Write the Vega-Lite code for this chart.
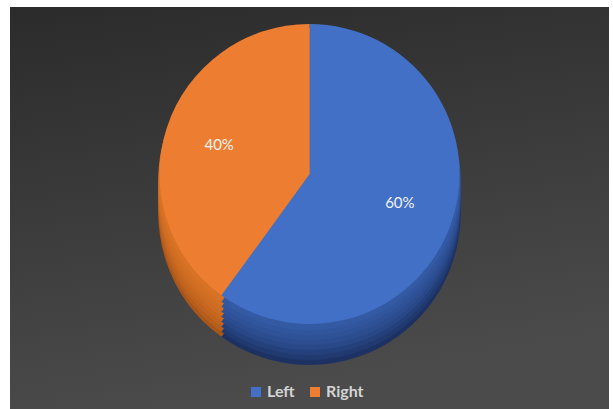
{
  "$schema": "https://vega.github.io/schema/vega-lite/v6.json",
  "autosize": {"type": "fit", "contains": "padding"},
  "width": 613,
  "height": 409,
  "padding": {"left": 10, "top": 7, "right": 4, "bottom": 0},
  "background": "white",
  "config": {
    "view": {"stroke": null, "fill": "#393939"},
    "font": "Lato"
  },
  "data": {"values": [{"side": "Left", "share": 0.6}, {"side": "Right", "share": 0.4}]},
  "layer": [
    {
      "mark": {"type": "rect", "color": {"gradient": "linear", "x1": 0, "y1": 0, "x2": 0.25, "y2": 1, "stops": [{"offset": 0, "color": "#2b2b2b"}, {"offset": 1, "color": "#4b4b4b"}]}},
      "encoding": {}
    },
    {
      "encoding": {
        "theta": {"field": "share", "type": "quantitative", "stack": true},
        "order": {"field": "side", "type": "nominal"}
      },
      "layer": [
        {"mark": {"type": "arc", "radius": 150, "yOffset": 6, "strokeWidth": 2}, "encoding": {"color": {"field": "side", "type": "nominal", "scale": {"domain": ["Left", "Right"], "range": ["#1d3263", "#a8561b"]}, "legend": null}, "stroke": {"field": "side", "type": "nominal", "scale": {"domain": ["Left", "Right"], "range": ["#1d3263", "#a8561b"]}, "legend": null}}},
        {"mark": {"type": "arc", "radius": 150, "yOffset": 1, "strokeWidth": 2}, "encoding": {"color": {"field": "side", "type": "nominal", "scale": {"domain": ["Left", "Right"], "range": ["#213a70", "#b65e1d"]}, "legend": null}, "stroke": {"field": "side", "type": "nominal", "scale": {"domain": ["Left", "Right"], "range": ["#213a70", "#b65e1d"]}, "legend": null}}},
        {"mark": {"type": "arc", "radius": 150, "yOffset": -4, "strokeWidth": 2}, "encoding": {"color": {"field": "side", "type": "nominal", "scale": {"domain": ["Left", "Right"], "range": ["#25417c", "#c0631f"]}, "legend": null}, "stroke": {"field": "side", "type": "nominal", "scale": {"domain": ["Left", "Right"], "range": ["#25417c", "#c0631f"]}, "legend": null}}},
        {"mark": {"type": "arc", "radius": 150, "yOffset": -9, "strokeWidth": 2}, "encoding": {"color": {"field": "side", "type": "nominal", "scale": {"domain": ["Left", "Right"], "range": ["#294887", "#c66720"]}, "legend": null}, "stroke": {"field": "side", "type": "nominal", "scale": {"domain": ["Left", "Right"], "range": ["#294887", "#c66720"]}, "legend": null}}},
        {"mark": {"type": "arc", "radius": 150, "yOffset": -14, "strokeWidth": 2}, "encoding": {"color": {"field": "side", "type": "nominal", "scale": {"domain": ["Left", "Right"], "range": ["#2c4d90", "#cc6b22"]}, "legend": null}, "stroke": {"field": "side", "type": "nominal", "scale": {"domain": ["Left", "Right"], "range": ["#2c4d90", "#cc6b22"]}, "legend": null}}},
        {"mark": {"type": "arc", "radius": 150, "yOffset": -19, "strokeWidth": 2}, "encoding": {"color": {"field": "side", "type": "nominal", "scale": {"domain": ["Left", "Right"], "range": ["#2f5297", "#d06e23"]}, "legend": null}, "stroke": {"field": "side", "type": "nominal", "scale": {"domain": ["Left", "Right"], "range": ["#2f5297", "#d06e23"]}, "legend": null}}},
        {"mark": {"type": "arc", "radius": 150, "yOffset": -24, "strokeWidth": 2}, "encoding": {"color": {"field": "side", "type": "nominal", "scale": {"domain": ["Left", "Right"], "range": ["#31569d", "#d47024"]}, "legend": null}, "stroke": {"field": "side", "type": "nominal", "scale": {"domain": ["Left", "Right"], "range": ["#31569d", "#d47024"]}, "legend": null}}},
        {"mark": {"type": "arc", "radius": 150, "yOffset": -29, "strokeWidth": 2}, "encoding": {"color": {"field": "side", "type": "nominal", "scale": {"domain": ["Left", "Right"], "range": ["#335aa3", "#d87325"]}, "legend": null}, "stroke": {"field": "side", "type": "nominal", "scale": {"domain": ["Left", "Right"], "range": ["#335aa3", "#d87325"]}, "legend": null}}},
        {
          "mark": {"type": "arc", "radius": 150, "yOffset": -34},
          "encoding": {
            "color": {
              "field": "side", "type": "nominal",
              "scale": {"domain": ["Left", "Right"], "range": ["#4270c6", "#ed7d31"]},
              "legend": {
                "title": null, "orient": "none", "direction": "horizontal",
                "legendX": 238, "legendY": 377,
                "symbolType": "square", "symbolSize": 100, "symbolStrokeWidth": 0,
                "labelColor": "#d4d4d4", "labelFontSize": 16, "labelFont": "Lato", "labelFontWeight": "bold",
                "columnPadding": 12, "symbolOffset": 0, "labelOffset": 3
              }
            }
          }
        },
        {
          "mark": {"type": "text", "radius": 95, "yOffset": -34, "color": "#f2f2f2", "fontSize": 15},
          "encoding": {"text": {"field": "share", "type": "quantitative", "format": ".0%"}}
        }
      ],
      "resolve": {"scale": {"color": "independent", "stroke": "independent"}}
    }
  ],
  "resolve": {"scale": {"color": "independent", "stroke": "independent"}}
}
